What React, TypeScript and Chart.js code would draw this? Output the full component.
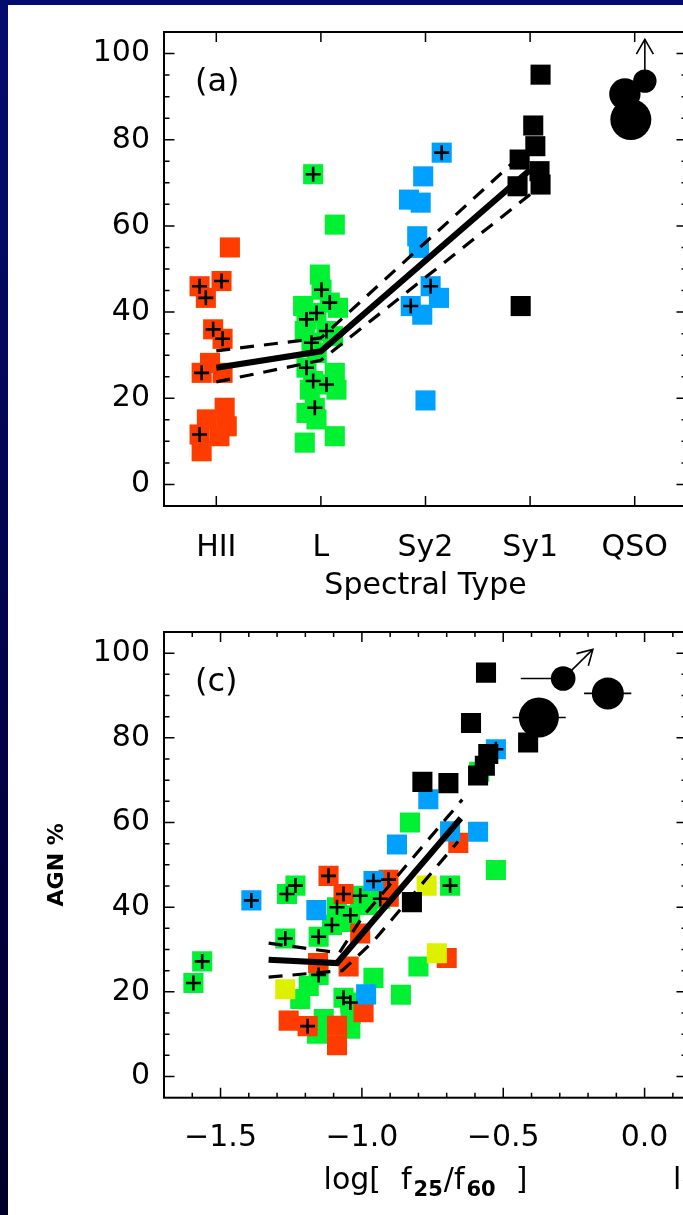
import React, { useEffect, useRef } from "react";
import { Chart, registerables } from "chart.js";

Chart.register(...registerables);

const FONT = "'DejaVu Sans', 'Liberation Sans', sans-serif";

// ---------------- Panel (a): AGN % vs spectral type ----------------
const spectralTypes = ["HII", "L", "Sy2", "Sy1", "QSO"];
const yMajorTicks = [0, 20, 40, 60, 80, 100];
const yMinorTicks = [5, 10, 15, 25, 30, 35, 45, 50, 55, 65, 70, 75, 85, 90, 95];

const hiiX = [0.13, -0.16, 0.05, -0.1, -0.03, 0.06, -0.14, -0.06, 0.06, 0.08, -0.09, 0.1, -0.16, 0.03, -0.14];
const hiiY = [55, 46, 47.2, 43.3, 36, 33.8, 25.9, 28.2, 25.9, 17.8, 15.1, 13.5, 11.6, 11.2, 7.7];
const hiiMark = [0, 1, 1, 1, 1, 1, 1, 0, 0, 0, 0, 0, 1, 0, 0];

const linerX = [0.926, 1.133, 0.99, 1.006, 1.085, 0.958, 0.862, 1.053, 0.91, 0.862, 0.926, 1.053, 0.942, 1.164, 0.83, 0.846, 1.117, 1.133, 1.149, 0.894, 0.862, 0.958, 0.846, 1.133, 0.96];
const linerY = [72, 60.3, 48.7, 45.2, 42.2, 39.8, 38.3, 35.6, 32.9, 27.1, 24, 23.2, 17.8, 41, 41.4, 35.6, 34.4, 25.9, 22, 22, 16.6, 15.1, 9.7, 11.2, 30.5];
const linerMark = [1, 0, 0, 1, 1, 1, 1, 1, 1, 1, 1, 1, 1, 0, 0, 0, 0, 0, 0, 0, 0, 0, 0, 0, 0];

const sy2X = [2.155, 1.978, 1.842, 1.954, 1.921, 1.937, 2.049, 2.129, 1.859, 1.969, 2.0];
const sy2Y = [77, 71.5, 66.1, 65.4, 57.6, 54.9, 46, 43.3, 41.4, 39.4, 19.5];
const sy2Mark = [1, 0, 0, 0, 0, 0, 1, 0, 1, 0, 0];

const sy1X = [3.1, 3.03, 3.05, 2.9, 3.09, 3.1, 2.88, 2.91];
const sy1Y = [95.1, 83.3, 78.5, 75.4, 72.7, 69.6, 69.2, 41.4];

const qsoAX = [4.097, 3.906, 3.963];
const qsoAY = [93.6, 90.6, 84.7];
const qsoALimitTo = 103.3; // lower limit arrow on the first QSO

const fitAX = [0, 1, 3];
const fitAY = [27.1, 30.9, 73];
const fitAUpX = [0, 1, 2.85];
const fitAUpY = [31, 34, 75];
const fitALoX = [0, 1, 3];
const fitALoY = [23.8, 28.8, 67.3];

// ---------------- Panel (c): AGN % vs log(f25/f60) ----------------
const xMajorC = [-1.5, -1.0, -0.5, 0.0];
const xMinorC = [-1.6, -1.4, -1.3, -1.2, -1.1, -0.9, -0.8, -0.7, -0.6, -0.4, -0.3, -0.2, -0.1, 0.1];

const redCX = [-1.118, -1.065, -0.906, -0.905, -1.006, -0.659, -0.7, -1.155, -1.047, -0.994, -1.259, -1.192, -1.088, -1.088];
const redCY = [47.4, 43.1, 46.5, 42.5, 33.8, 55.2, 28, 26.8, 26, 15.2, 13.2, 11.9, 12, 7.4];
const redCMark = [1, 1, 1, 0, 0, 0, 0, 0, 0, 0, 0, 1, 0, 0];

const greenCX = [-1.565, -1.596, -1.235, -1.265, -1.271, -1.153, -1.106, -1.041, -1.006, -1.088, -0.935, -1.153, -0.959, -1.188, -1.218, -1.065, -1.041, -0.862, -0.8, -1.135, -1.159, -1.041, -1.04, -0.83, -0.526, -0.688, -0.585, -1.06, -0.98];
const greenCY = [27.2, 22.1, 45.1, 43.1, 32.6, 33, 35.8, 38.1, 42.7, 40, 42, 24, 23.3, 21.4, 18.3, 18.6, 17.5, 19.3, 26, 13.6, 10.1, 11.3, 14.8, 60, 48.8, 45.1, 72, 36.5, 40.5];
const greenCMark = [1, 1, 1, 1, 1, 1, 1, 1, 1, 1, 1, 1, 0, 0, 0, 1, 1, 0, 0, 0, 0, 0, 0, 0, 0, 1, 0, 0, 0];

const blueCX = [-1.391, -1.161, -0.959, -0.985, -0.876, -0.765, -0.688, -0.589, -0.526];
const blueCY = [41.6, 39.3, 46.2, 19.4, 54.8, 65.5, 57.9, 57.8, 77.3];
const blueCMark = [1, 0, 1, 0, 0, 0, 0, 0, 1];

const yellowCX = [-0.771, -1.271, -0.735];
const yellowCY = [45.1, 20.6, 29.1];

const blackCX = [-0.823, -0.786, -0.694, -0.589, -0.565, -0.553, -0.412, -0.614, -0.561];
const blackCY = [41.2, 69.6, 69.3, 71.1, 73.4, 76.2, 78.9, 83.5, 95.4];

const qsoCX = [-0.288, -0.13, -0.374];
const qsoCY = [94, 90.5, 84.8];
const qsoCErrLo = [-0.438, -0.214, -0.467];
const qsoCErrHi = [-0.288, -0.047, -0.279];
const qsoCArrowToX = -0.183;
const qsoCArrowToY = 100.9;

const fitCX = [-1.33, -1.088, -0.65];
const fitCY = [27.6, 26.8, 61];
const fitCUpX = [-1.33, -1.08, -1.0, -0.645];
const fitCUpY = [31.5, 29.2, 37.5, 65.4];
const fitCLoX = [-1.33, -1.07, -0.96, -0.66];
const fitCLoY = [23.5, 25, 31.9, 55.5];

// ---------------- styles ----------------
const RED = "#ff3c00";
const GREEN = "#00f032";
const BLUE = "#00a0ff";
const YELLOW = "#dcf000";
const BLACK = "#000000";
const SQUARE_R = 14.2;
const CROSS_R = 7.5;
const qsoARadius = [11.7, 15.7, 20.5];
const qsoCRadius = [12.3, 16, 20];

const pts = (xs: number[], ys: number[], base = 0) => xs.map((x, i) => ({ x: x + base, y: ys[i] }));
const marked = (xs: number[], ys: number[], m: number[], base = 0) =>
  pts(xs, ys, base).filter((_, i) => m[i]);

const squares = (data: any[], color: string, order: number) => ({
  data,
  pointStyle: "rect",
  pointRadius: SQUARE_R,
  pointBackgroundColor: color,
  pointBorderColor: color,
  pointBorderWidth: 0,
  showLine: false,
  order,
});
const crosses = (data: any[]) => ({
  data,
  pointStyle: "cross",
  pointRadius: CROSS_R,
  pointBorderColor: "#000",
  pointBorderWidth: 2.6,
  showLine: false,
  order: 1,
});
const circles = (data: any[], radius: number[]) => ({
  data,
  pointStyle: "circle",
  pointRadius: radius,
  pointBackgroundColor: "#000",
  pointBorderWidth: 0,
  showLine: false,
  order: 2,
});
const line = (data: any[], dashed: boolean) => ({
  data,
  showLine: true,
  borderColor: "#000",
  borderWidth: dashed ? 3.2 : 6,
  borderDash: dashed ? [14, 10] : [],
  pointRadius: 0,
  fill: false,
  tension: 0,
  order: 0,
});

function arrowHead(ctx: CanvasRenderingContext2D, x0: number, y0: number, x1: number, y1: number) {
  const a = Math.atan2(y1 - y0, x1 - x0);
  const len = 17;
  const spread = Math.PI / 6;
  ctx.beginPath();
  ctx.moveTo(x1 - len * Math.cos(a - spread), y1 - len * Math.sin(a - spread));
  ctx.lineTo(x1, y1);
  ctx.lineTo(x1 - len * Math.cos(a + spread), y1 - len * Math.sin(a + spread));
  ctx.stroke();
}

function framePlugin(id: string, xMajor: number[], xMinor: number[], label: string, extra?: (chart: any) => void) {
  return {
    id,
    afterDraw(chart: any) {
      const { ctx, chartArea } = chart;
      const { left, right, top, bottom } = chartArea;
      const xs = chart.scales.x;
      const ys = chart.scales.y;
      ctx.save();
      ctx.strokeStyle = "#000";
      ctx.lineWidth = 1.5;
      ctx.beginPath();
      const yt = (v: number, len: number) => {
        const p = ys.getPixelForValue(v);
        ctx.moveTo(left, p);
        ctx.lineTo(left + len, p);
        ctx.moveTo(right, p);
        ctx.lineTo(right - len, p);
      };
      const xt = (v: number, len: number) => {
        const p = xs.getPixelForValue(v);
        ctx.moveTo(p, bottom);
        ctx.lineTo(p, bottom - len);
        ctx.moveTo(p, top);
        ctx.lineTo(p, top + len);
      };
      yMajorTicks.forEach((v) => yt(v, 10.5));
      yMinorTicks.forEach((v) => yt(v, 5.5));
      xMajor.forEach((v) => xt(v, 10));
      xMinor.forEach((v) => xt(v, 5));
      ctx.stroke();
      ctx.lineWidth = 2;
      ctx.strokeRect(left, top, right - left, bottom - top);
      ctx.fillStyle = "#000";
      ctx.font = `32px ${FONT}`;
      ctx.textBaseline = "middle";
      ctx.textAlign = "left";
      ctx.fillText(label, left + 31, top + 51);
      if (extra) extra(chart);
      ctx.restore();
    },
  };
}

const tickFont = { family: FONT, size: 30 };

function baseOptions(topPad: number, xHeight: number, xScale: any, yTitle?: any) {
  return {
    animation: false,
    responsive: false,
    maintainAspectRatio: false,
    devicePixelRatio: 1,
    events: [],
    layout: { padding: { top: topPad, right: 33, left: 0, bottom: 0 } },
    plugins: { legend: { display: false }, tooltip: { enabled: false } },
    scales: {
      x: {
        type: "linear",
        ...xScale,
        grid: { display: false, drawTicks: false },
        border: { display: false },
        afterFit: (s: any) => {
          s.height = xHeight;
        },
      },
      y: {
        type: "linear",
        min: -5,
        max: 105,
        afterBuildTicks: (s: any) => {
          s.ticks = yMajorTicks.map((v) => ({ value: v }));
        },
        ticks: { font: tickFont, color: "#000", padding: 14, autoSkip: false },
        grid: { display: false, drawTicks: false },
        border: { display: false },
        title: yTitle || { display: false },
        afterFit: (s: any) => {
          s.width = 164;
        },
      },
    },
  };
}

function configA(): any {
  const crossData = [
    ...marked(hiiX, hiiY, hiiMark, 0),
    ...marked(linerX, linerY, linerMark, 0),
    ...marked(sy2X, sy2Y, sy2Mark, 0),
  ];
  return {
    type: "scatter",
    data: {
      datasets: [
        line(pts(fitAX, fitAY), false),
        line(pts(fitAUpX, fitAUpY), true),
        line(pts(fitALoX, fitALoY), true),
        crosses(crossData),
        circles(pts(qsoAX, qsoAY), qsoARadius),
        squares(pts(sy1X, sy1Y), BLACK, 3),
        squares(pts(sy2X, sy2Y), BLUE, 4),
        squares(pts(linerX, linerY), GREEN, 5),
        squares(pts(hiiX, hiiY), RED, 6),
      ],
    },
    options: baseOptions(31.7, 94, {
      min: -0.5,
      max: 4.5,
      afterBuildTicks: (s: any) => {
        s.ticks = spectralTypes.map((_, i) => ({ value: i }));
      },
      ticks: {
        font: tickFont,
        color: "#000",
        padding: 24,
        autoSkip: false,
        maxRotation: 0,
        callback: (v: any) => spectralTypes[Math.round(Number(v))],
      },
      title: {
        display: true,
        text: "Spectral Type",
        font: tickFont,
        color: "#000",
        padding: { top: 0, bottom: -4 },
      },
    }),
    plugins: [
      framePlugin("frameA", spectralTypes.map((_, i) => i), [], "(a)", (chart: any) => {
        const { ctx } = chart;
        const xs = chart.scales.x;
        const ys = chart.scales.y;
        const px = xs.getPixelForValue(qsoAX[0]);
        const y0 = ys.getPixelForValue(qsoAY[0]);
        const y1 = ys.getPixelForValue(qsoALimitTo);
        ctx.lineWidth = 1.6;
        ctx.beginPath();
        ctx.moveTo(px, y0);
        ctx.lineTo(px, y1);
        ctx.stroke();
        arrowHead(ctx, px, y0, px, y1);
      }),
    ],
  };
}

function configC(): any {
  const crossData = [
    ...marked(greenCX, greenCY, greenCMark),
    ...marked(redCX, redCY, redCMark),
    ...marked(blueCX, blueCY, blueCMark),
  ];
  return {
    type: "scatter",
    data: {
      datasets: [
        line(pts(fitCX, fitCY), false),
        line(pts(fitCUpX, fitCUpY), true),
        line(pts(fitCLoX, fitCLoY), true),
        crosses(crossData),
        circles(pts(qsoCX, qsoCY), qsoCRadius),
        squares(pts(blackCX, blackCY), BLACK, 3),
        squares(pts(yellowCX, yellowCY), YELLOW, 4),
        squares(pts(blueCX, blueCY), BLUE, 5),
        squares(pts(redCX, redCY), RED, 6),
        squares(pts(greenCX, greenCY), GREEN, 7),
      ],
    },
    options: baseOptions(
      24,
      117.3,
      {
        min: -1.7,
        max: 0.15,
        afterBuildTicks: (s: any) => {
          s.ticks = xMajorC.map((v) => ({ value: v }));
        },
        ticks: {
          font: tickFont,
          color: "#000",
          padding: 23,
          autoSkip: false,
          maxRotation: 0,
          callback: (v: any) => (Number(v) < -1e-9 ? "\u2212" : "") + Math.abs(Number(v)).toFixed(1),
        },
      },
      {
        display: true,
        text: "AGN %",
        font: { family: FONT, size: 22, weight: "bold" },
        color: "#000",
        padding: { top: 44, bottom: 0 },
      }
    ),
    plugins: [
      framePlugin("frameC", xMajorC, xMinorC, "(c)", (chart: any) => {
        const { ctx, chartArea } = chart;
        const xs = chart.scales.x;
        const ys = chart.scales.y;
        ctx.lineWidth = 1.6;
        // error bars
        ctx.beginPath();
        qsoCX.forEach((_, i) => {
          const py = ys.getPixelForValue(qsoCY[i]);
          ctx.moveTo(xs.getPixelForValue(qsoCErrLo[i]), py);
          ctx.lineTo(xs.getPixelForValue(qsoCErrHi[i]), py);
        });
        ctx.stroke();
        // lower limit arrow
        const ax0 = xs.getPixelForValue(qsoCX[0]);
        const ay0 = ys.getPixelForValue(qsoCY[0]);
        const ax1 = xs.getPixelForValue(qsoCArrowToX);
        const ay1 = ys.getPixelForValue(qsoCArrowToY);
        ctx.beginPath();
        ctx.moveTo(ax0, ay0);
        ctx.lineTo(ax1, ay1);
        ctx.stroke();
        arrowHead(ctx, ax0, ay0, ax1, ay1);
        // x-axis title with subscripts
        const main = `30px ${FONT}`;
        const sub = `bold 21px ${FONT}`;
        const parts = [
          { t: "log[", f: main, dy: 0, gap: 20 },
          { t: "f", f: main, dy: 0, gap: 2 },
          { t: "25", f: sub, dy: 7, gap: 1 },
          { t: "/f", f: main, dy: 0, gap: 2 },
          { t: "60", f: sub, dy: 7, gap: 20 },
          { t: "]", f: main, dy: 0, gap: 0 },
        ];
        ctx.textBaseline = "alphabetic";
        ctx.textAlign = "left";
        let total = 0;
        parts.forEach((p) => {
          ctx.font = p.f;
          total += ctx.measureText(p.t).width + p.gap;
        });
        let x = (chartArea.left + chartArea.right) / 2 - total / 2;
        const base = 589;
        parts.forEach((p) => {
          ctx.font = p.f;
          ctx.fillText(p.t, x, base + p.dy);
          x += ctx.measureText(p.t).width + p.gap;
        });
        // next panel's axis title, cut off by the page edge
        ctx.font = main;
        ctx.fillText("log[ f", 673, base);
      }),
    ],
  };
}

function ChartCanvas({ make, top, height }: { make: () => any; top: number; height: number }) {
  const ref = useRef<HTMLCanvasElement>(null);
  useEffect(() => {
    const chart = new Chart(ref.current as HTMLCanvasElement, make());
    return () => chart.destroy();
  }, []);
  return (
    <canvas
      ref={ref}
      width={720}
      height={height}
      style={{ position: "absolute", left: 0, top, width: 720, height }}
    />
  );
}

export default function App() {
  return (
    <div
      style={{
        position: "fixed",
        left: 0,
        top: 0,
        width: 683,
        height: 1215,
        overflow: "hidden",
        background: "#ffffff",
      }}
    >
      <ChartCanvas make={configA} top={0} height={600} />
      <ChartCanvas make={configC} top={600} height={615} />
      <div
        style={{
          position: "absolute",
          left: 0,
          top: 0,
          width: 683,
          height: 5,
          background: "#040c70",
        }}
      />
      <div
        style={{
          position: "absolute",
          left: 0,
          top: 0,
          width: 8,
          height: 1215,
          background: "linear-gradient(to bottom, #040c70, #02003a 75%, #01002a)",
        }}
      />
    </div>
  );
}
